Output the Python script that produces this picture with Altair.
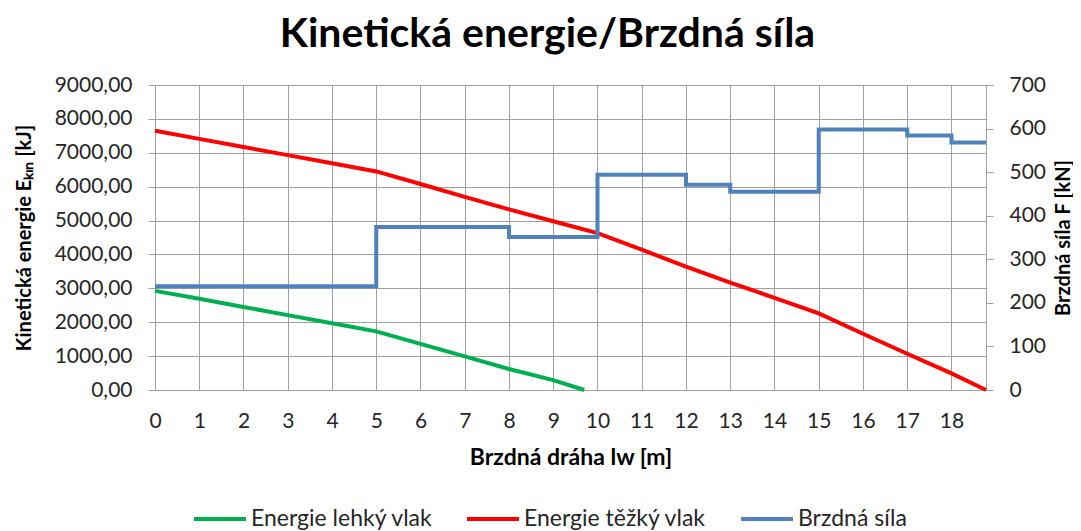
import altair as alt
import pandas as pd

series_names = ["Energie lehký vlak", "Energie těžký vlak", "Brzdná síla"]
series_colors = ["#00B050", "#FF0000", "#4F81BD"]

# Energie lehký vlak [kJ]
x_light = [0, 1, 2, 3, 4, 5, 6, 7, 8, 9, 9.7]
e_light = [2925, 2690, 2450, 2210, 1970, 1730, 1360, 990, 620, 290, 0]

# Energie těžký vlak [kJ]
x_heavy = [0, 1, 2, 3, 4, 5, 6, 7, 8, 9, 10, 11, 12, 13, 14, 15, 16, 17, 18, 18.78]
e_heavy = [7650, 7410, 7170, 6930, 6690, 6450, 6080, 5700, 5330, 4980, 4630,
           4140, 3640, 3170, 2720, 2260, 1660, 1070, 490, 0]

# Brzdná síla [kN] (step line)
x_force = [0, 5, 5, 8, 8, 10, 10, 12, 12, 13, 13, 15, 15, 17, 17, 18, 18, 18.78]
f_force = [238, 238, 374, 374, 351, 351, 494, 494, 471, 471, 455, 455,
           598, 598, 584, 584, 568, 568]

x_ticks = list(range(0, 19))
e_ticks = list(range(0, 9001, 1000))
f_ticks = list(range(0, 701, 100))

energy_df = pd.concat([
    pd.DataFrame({"x": x_light, "v": e_light, "series": series_names[0],
                  "i": range(len(x_light))}),
    pd.DataFrame({"x": x_heavy, "v": e_heavy, "series": series_names[1],
                  "i": range(len(x_heavy))}),
], ignore_index=True)
force_df = pd.DataFrame({"x": x_force, "v": f_force, "series": series_names[2],
                         "i": range(len(x_force))})

FONT = "Lato"
GRID = "#a0a0a0"
LABEL = "#262626"

color = alt.Color(
    "series:N",
    scale=alt.Scale(domain=series_names, range=series_colors),
    legend=alt.Legend(
        orient="none", legendX=37, legendY=406, direction="horizontal",
        title=None, symbolType="stroke", symbolSize=2704, symbolStrokeWidth=4,
        labelFont=FONT, labelFontSize=23, labelColor=LABEL, labelOffset=3,
        labelLimit=400, columnPadding=26, padding=0,
    ),
)

x_enc = alt.X(
    "x:Q",
    scale=alt.Scale(domain=[0, 18.78], nice=False, zero=False),
    axis=alt.Axis(
        values=x_ticks, title="Brzdná dráha lw [m]", grid=True, gridColor=GRID,
        domainColor=GRID, tickSize=0, labelPadding=20, labelFlush=False,
        titlePadding=15, titleFontSize=23,
    ),
)

energy = alt.Chart(energy_df).mark_line(strokeWidth=4).encode(
    x=x_enc,
    y=alt.Y(
        "v:Q",
        scale=alt.Scale(domain=[0, 9000], nice=False),
        axis=alt.Axis(
            orient="left", values=e_ticks, grid=True, gridColor=GRID,
            domainColor=GRID, tickColor=GRID, tickSize=7, labelPadding=16,
            labelExpr="replace(format(datum.value, '.2f'), '.', ',')",
            title="Kinetická energie Eₖᵢₙ [kJ]", titlePadding=20,
        ),
    ),
    color=color,
    order="i:Q",
)

force = alt.Chart(force_df).mark_line(strokeWidth=4).encode(
    x=x_enc,
    y=alt.Y(
        "v:Q",
        scale=alt.Scale(domain=[0, 700], nice=False),
        axis=alt.Axis(
            orient="right", values=f_ticks, grid=False,
            domainColor=GRID, tickColor=GRID, tickSize=7, labelPadding=16,
            title="Brzdná síla F [kN]", titlePadding=8,
            titleAngle=270, titleBaseline="top",
        ),
    ),
    color=color,
    order="i:Q",
)

chart = alt.layer(energy, force).resolve_scale(y="independent").properties(
    width=831,
    height=305,
    autosize=alt.AutoSizeParams(type="none"),
    padding={"left": 147, "top": 77, "right": 87, "bottom": 141},
    title=alt.TitleParams(
        "Kinetická energie/Brzdná síla", font=FONT, fontSize=41,
        fontWeight="bold", color="#000000", anchor="middle", dx=-23,
        offset=18,
    ),
).configure_view(stroke=None).configure_axis(
    labelFont=FONT, labelFontSize=21, labelColor=LABEL,
    titleFont=FONT, titleFontSize=20, titleFontWeight="bold", titleColor="#000000",
)

chart.save("out.html", embed_options={"renderer": "svg", "actions": False})
